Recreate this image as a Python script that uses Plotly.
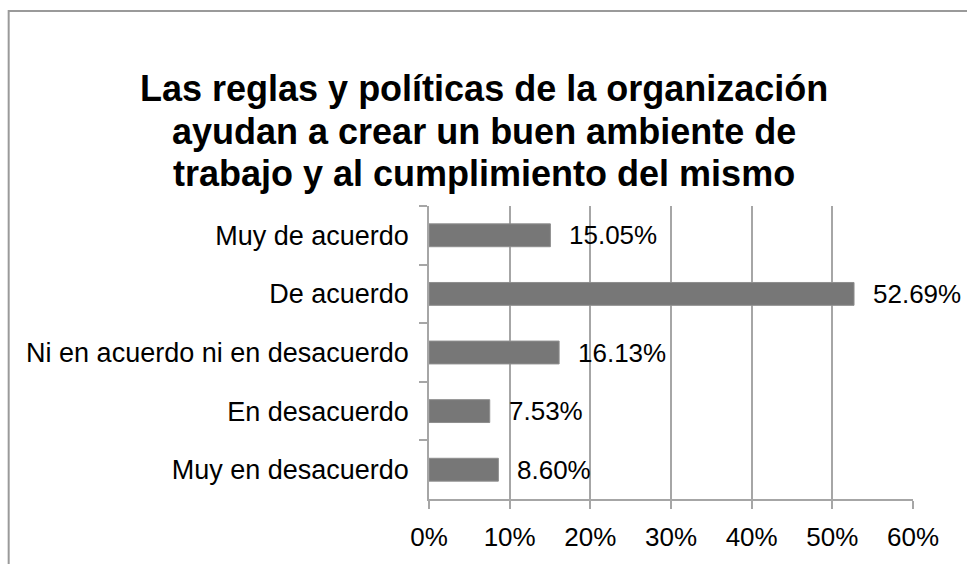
import plotly.graph_objects as go

categories = ["Muy de acuerdo", "De acuerdo", "Ni en acuerdo ni en desacuerdo",
              "En desacuerdo", "Muy en desacuerdo"]
values = [0.1505, 0.5269, 0.1613, 0.0753, 0.0860]
value_labels = ["15.05%", "52.69%", "16.13%", "7.53%", "8.60%"]
title_lines = ["Las reglas y políticas de la organización",
               "ayudan a crear un buen ambiente de",
               "trabajo y al cumplimiento del mismo"]

FONT = "Liberation Sans, Arial, sans-serif"
GRID = "#a6a6a6"

fig = go.Figure()
fig.add_trace(go.Bar(
    x=values, y=categories, orientation="h",
    marker=dict(color="#777777", line=dict(color="#8e8e8e", width=1)),
    hoverinfo="skip",
))

for v, c, t in zip(values, categories, value_labels):
    fig.add_annotation(x=v, y=c, xref="x", yref="y", text=t, showarrow=False,
                       xanchor="left", yanchor="middle", xshift=17,
                       font=dict(family=FONT, size=26, color="#000000"))

W, H = 967, 564
ml, mr, mt, mb = 428.5, 54.3, 206, 60.5
pw, ph = W - ml - mr, H - mt - mb

def px(x):
    return (x - ml) / pw

def py(y):
    return (H - mb - y) / ph

fig.add_shape(type="rect", xref="paper", yref="paper",
              x0=px(8), x1=px(975), y0=py(572), y1=py(8),
              line=dict(color="#9a9a9a", width=2), layer="below")

for line, yc in zip(title_lines, [87, 130, 173]):
    fig.add_annotation(text=line, xref="paper", yref="paper",
                       x=px(483.5), y=py(yc), xanchor="center", yanchor="middle",
                       showarrow=False, align="center",
                       font=dict(family=FONT, size=36, color="#000000", weight="bold"))

fig.update_layout(
    width=W, height=H,
    margin=dict(l=ml, r=mr, t=mt, b=mb, pad=0),
    paper_bgcolor="white", plot_bgcolor="white",
    showlegend=False,
    bargap=0.61,
    xaxis=dict(range=[0, 0.6], dtick=0.1, tickformat=".0%",
               showgrid=True, gridcolor=GRID, gridwidth=1.5,
               showline=True, linecolor=GRID, linewidth=1.5,
               ticks="outside", ticklen=8, tickcolor=GRID, tickwidth=1.5,
               zeroline=False, ticklabelstandoff=6,
               tickfont=dict(family=FONT, size=26, color="#000000")),
    yaxis=dict(autorange="reversed", tickson="boundaries",
               showgrid=False, showline=True, linecolor=GRID, linewidth=1.5,
               ticks="outside", ticklen=8, tickcolor=GRID, tickwidth=1.5,
               ticklabelstandoff=13,
               tickfont=dict(family=FONT, size=27, color="#000000")),
)

fig.write_html("out.html", config={"displayModeBar": False},
               post_script="document.body.style.margin='0';")
